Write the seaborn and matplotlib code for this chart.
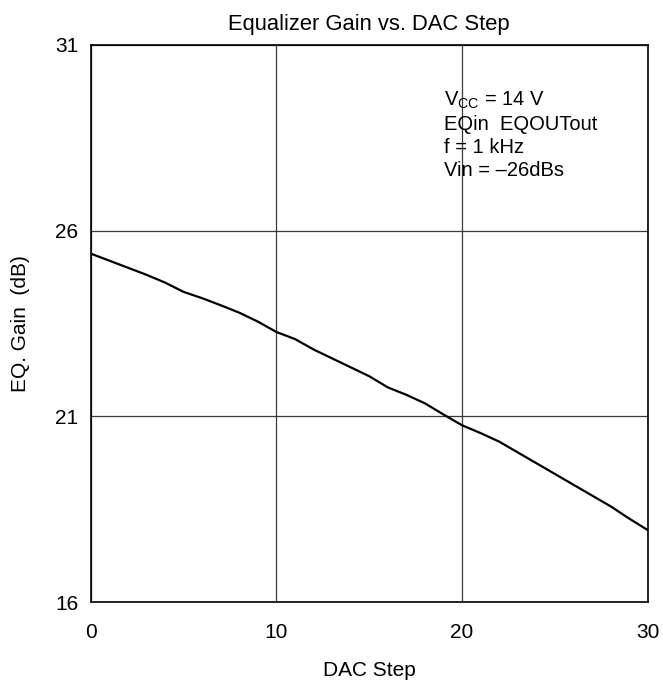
import matplotlib
matplotlib.use("Agg")
import matplotlib.pyplot as plt
import seaborn as sns
import pandas as pd

dac_step = list(range(0, 31))
eq_gain = [25.38, 25.19, 25.00, 24.81, 24.60, 24.35, 24.18, 23.99, 23.79, 23.55,
           23.27, 23.08, 22.80, 22.56, 22.32, 22.08, 21.78, 21.58, 21.35, 21.05,
           20.76, 20.55, 20.32, 20.03, 19.74, 19.45, 19.16, 18.87, 18.58, 18.25,
           17.94]
x_ticks = [0, 10, 20, 30]
y_ticks = [16, 21, 26, 31]

sns.set_style("white")
plt.rcParams['font.family'] = ['Liberation Sans', 'DejaVu Sans']
plt.rcParams['mathtext.fontset'] = 'custom'
plt.rcParams['mathtext.rm'] = 'Liberation Sans'
plt.rcParams['mathtext.it'] = 'Liberation Sans'
plt.rcParams['text.color'] = 'black'
plt.rcParams['axes.labelcolor'] = 'black'
plt.rcParams['xtick.color'] = 'black'
plt.rcParams['ytick.color'] = 'black'

df = pd.DataFrame({"DAC Step": dac_step, "EQ. Gain": eq_gain})

fig = plt.figure(figsize=(6.63, 6.89), dpi=100)
ax = fig.add_axes([0.137, 0.126, 0.840, 0.809])
sns.lineplot(data=df, x="DAC Step", y="EQ. Gain", ax=ax, color="black", linewidth=1.6)

ax.set_xlim(0, 30)
ax.set_ylim(16, 31)
ax.set_xticks(x_ticks)
ax.set_yticks(y_ticks)
ax.tick_params(axis='x', labelsize=15, length=0, pad=15)
ax.tick_params(axis='y', labelsize=15, length=0, pad=9)
ax.grid(True, color="#3a3a3a", linewidth=0.9)
for s in ax.spines.values():
    s.set_color("black")
    s.set_linewidth(1.2)
ax.set_xlabel("DAC Step", fontsize=15, labelpad=14)
ax.set_ylabel("EQ. Gain  (dB)", fontsize=15, labelpad=18)
ax.set_title("Equalizer Gain vs. DAC Step", fontsize=15.8, pad=11, color="black")

ax.text(19.05, 29.78, "V$_{\\rm CC}$ = 14 V\nEQin  EQOUTout\nf = 1 kHz\nVin = \u201326dBs",
        fontsize=14.5, va="top", ha="left", linespacing=1.26, color="black")

fig.savefig("out.png", dpi=100)
